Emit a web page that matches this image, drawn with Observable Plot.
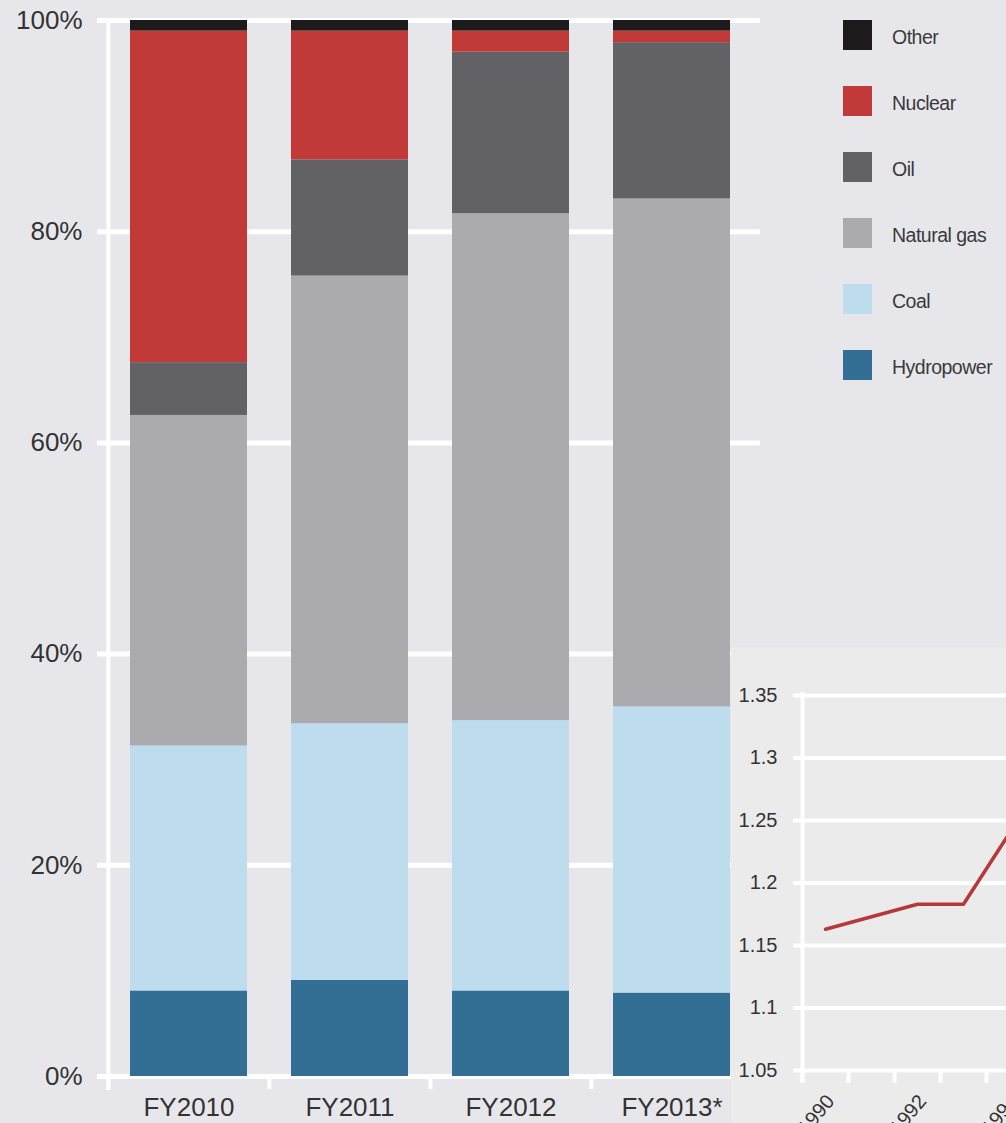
<!DOCTYPE html>
<html>
<head>
<meta charset="utf-8">
<script src="https://cdn.jsdelivr.net/npm/d3@7"></script>
<script src="https://cdn.jsdelivr.net/npm/@observablehq/plot@0.6"></script>
<style>
  html, body { margin: 0; padding: 0; background: #e7e7eb; width: 1006px; height: 1123px; overflow: hidden; }
  body { position: relative; font-family: "Liberation Sans", Arial, sans-serif; }
  #main { position: absolute; left: 0; top: 0; }
  #legend { position: absolute; left: 843px; top: 20px; }
  .item { position: relative; height: 66px; }
  .sw { position: absolute; left: 0; top: 0; width: 29px; height: 30px; }
  .lab { position: absolute; left: 49px; top: 5px; font-size: 19.5px; color: #3a3a3a; letter-spacing: -0.5px; white-space: nowrap; line-height: 24px; }
  #inset { position: absolute; left: 731px; top: 647px; width: 275px; height: 476px; background: #ebebeb; overflow: hidden; }
  #inset svg, #main svg { max-width: none !important; }
</style>
</head>
<body>
<div id="main"></div>
<div id="legend"></div>
<div id="inset"></div>
<script>
// ---- Main stacked bar data (percent of generation) ----
const categories = ["FY2010", "FY2011", "FY2012", "FY2013*"];
const sources = ["Hydropower", "Coal", "Natural gas", "Oil", "Nuclear", "Other"];
const hydropower = [8.1, 9.1, 8.1, 7.9];
const coal       = [23.2, 24.3, 25.6, 27.1];
const naturalGas = [31.3, 42.4, 48.0, 48.1];
const oil        = [5.0, 11.0, 15.3, 14.8];
const nuclear    = [31.4, 12.2, 2.0, 1.1];
const other      = [1.0, 1.0, 1.0, 1.0];
const yTicks = [0, 20, 40, 60, 80, 100];
const sourceColors = ["#336e94", "#bddcee", "#abaaae", "#626166", "#c13a38", "#1c1a1a"];

// ---- Inset line data ----
const insetYears  = [1990, 1992, 1993, 1994];
const insetValues = [1.163, 1.183, 1.183, 1.24];
const insetYTicks = [1.05, 1.1, 1.15, 1.2, 1.25, 1.3, 1.35];
const insetTickYears = [1990, 1991, 1992, 1993, 1994, 1995, 1996];
const insetLabelYears = [1990, 1992, 1994, 1996];

const seriesBySource = {
  "Hydropower": hydropower, "Coal": coal, "Natural gas": naturalGas,
  "Oil": oil, "Nuclear": nuclear, "Other": other
};
const rows = [];
sources.forEach(s => categories.forEach((c, i) => rows.push({year: c, source: s, value: seriesBySource[s][i]})));

const W = 770, ML = 108, MR = 17;
const step = (W - ML - MR) / categories.length;

const main = Plot.plot({
  width: W, height: 1123,
  marginTop: 20, marginBottom: 47, marginLeft: ML, marginRight: MR,
  style: {background: "transparent", fontFamily: "Liberation Sans, Arial, sans-serif", color: "#333", maxWidth: "none"},
  x: {domain: categories, paddingInner: 0.273, paddingOuter: 0.1365, axis: null, label: null},
  y: {domain: [0, 100], axis: null, label: null},
  color: {domain: sources, range: sourceColors},
  marks: [
    Plot.ruleY(yTicks, {stroke: "white", strokeWidth: 5, insetLeft: -11, insetRight: -7}),
    Plot.ruleX([categories[0]], {dx: -step / 2, y1: 100, y2: 0, insetTop: -2, insetBottom: -14, stroke: "white", strokeWidth: 4}),
    Plot.ruleX(categories, {dx: -step / 2, y1: 0, y2: 0, insetBottom: -13, stroke: "white", strokeWidth: 4}),
    Plot.barY(rows, Plot.stackY({x: "year", y: "value", fill: "source", order: sources})),
    Plot.axisY({ticks: yTicks, tickFormat: d => d + "%", tickSize: 0, tickPadding: 26, fontSize: 26, label: null}),
    Plot.axisX({tickSize: 0, tickPadding: 21, fontSize: 26, label: null})
  ]
});
document.getElementById("main").appendChild(main);

// Legend (top to bottom: reverse stack order)
const legend = document.getElementById("legend");
sources.slice().reverse().forEach(s => {
  const item = document.createElement("div");
  item.className = "item";
  const sw = document.createElement("div");
  sw.className = "sw";
  sw.style.background = sourceColors[sources.indexOf(s)];
  const lab = document.createElement("div");
  lab.className = "lab";
  lab.textContent = s;
  item.appendChild(sw); item.appendChild(lab);
  legend.appendChild(item);
});

// Inset
const IW = 400, IML = 71, IMR = 7;
const perYear = (IW - IML - IMR) / 7;
const inset = Plot.plot({
  width: IW, height: 476,
  marginTop: 48, marginBottom: 53, marginLeft: IML, marginRight: IMR,
  style: {background: "transparent", fontFamily: "Liberation Sans, Arial, sans-serif", color: "#333", maxWidth: "none"},
  x: {domain: [1989.5, 1996.5], axis: null, label: null},
  y: {domain: [1.05, 1.35], axis: null, label: null},
  marks: [
    Plot.ruleY(insetYTicks, {stroke: "white", strokeWidth: 4, insetLeft: -9}),
    Plot.ruleX([insetTickYears[0]], {dx: -perYear / 2, y1: 1.35, y2: 1.05, insetTop: -3, insetBottom: -13, stroke: "white", strokeWidth: 4}),
    Plot.ruleX(insetTickYears, {dx: -perYear / 2, y1: 1.05, y2: 1.05, insetBottom: -13, stroke: "white", strokeWidth: 4}),
    Plot.lineY(insetYears.map((y, i) => ({year: y, v: insetValues[i]})), {x: "year", y: "v", stroke: "#b5393b", strokeWidth: 3.5}),
    Plot.axisY({ticks: insetYTicks, tickFormat: d => String(d), tickSize: 0, tickPadding: 25, fontSize: 20, label: null}),
    Plot.axisX({ticks: insetLabelYears, tickFormat: d => String(d), tickRotate: -50, tickSize: 0, tickPadding: 27, dx: 5, fontSize: 20, label: null})
  ]
});
document.getElementById("inset").appendChild(inset);
</script>
</body>
</html>
